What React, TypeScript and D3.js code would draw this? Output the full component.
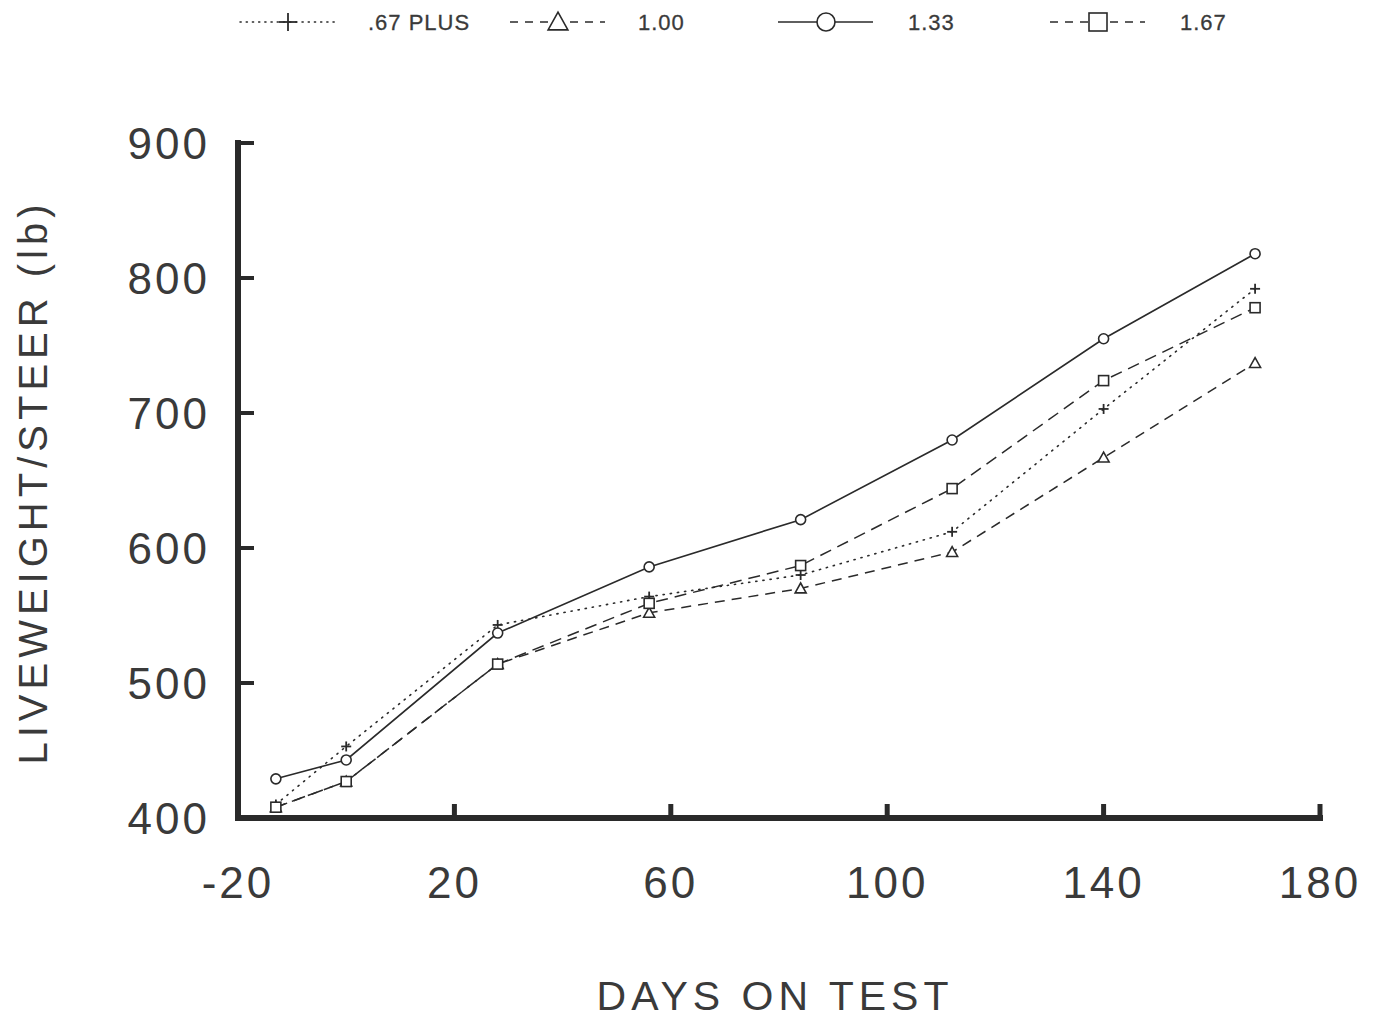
import React from "react";
import * as d3 from "d3";

const days = [-13, 0, 28, 56, 84, 112, 140, 168];
const plus67 = [410, 453, 543, 564, 580, 612, 703, 792];
const tri100 = [408, 427, 514, 552, 570, 597, 667, 737];
const circ133 = [429, 443, 537, 586, 621, 680, 755, 818];
const sq167 = [408, 427, 514, 559, 587, 644, 724, 778];

const xTicks = [-20, 20, 60, 100, 140, 180];
const yTicks = [400, 500, 600, 700, 800, 900];

const seriesNames = [".67 PLUS", "1.00", "1.33", "1.67"];

const INK = "#2a2a2a";
const TXT = "#3a3a3a";
const FONT = "'Liberation Sans', Arial, Helvetica, sans-serif";

type Kind = "plus" | "tri" | "circ" | "sq";

function Marker({ kind, x, y, s = 1 }: { kind: Kind; x: number; y: number; s?: number }) {
  const st = { fill: "white", stroke: INK, strokeWidth: 1.6 };
  if (kind === "plus") {
    const r = 5 * s;
    return (
      <g stroke={INK} strokeWidth={1.8}>
        <line x1={x - r} x2={x + r} y1={y} y2={y} />
        <line x1={x} x2={x} y1={y - r} y2={y + r} />
      </g>
    );
  }
  if (kind === "circ") return <circle cx={x} cy={y} r={5 * s} {...st} />;
  if (kind === "sq") {
    const h = 5 * s;
    return <rect x={x - h} y={y - h} width={2 * h} height={2 * h} {...st} />;
  }
  const h = 5.5 * s;
  return <path d={`M${x},${y - h}L${x + h},${y + h * 0.8}L${x - h},${y + h * 0.8}Z`} {...st} />;
}

export default function App() {
  const x = d3.scaleLinear().domain([-20, 180]).range([238, 1320]);
  const y = d3.scaleLinear().domain([400, 900]).range([818, 143]);

  const series: { kind: Kind; vals: number[]; dash: string; width: number }[] = [
    { kind: "plus", vals: plus67, dash: "1.2 6", width: 1.6 },
    { kind: "tri", vals: tri100, dash: "10 7", width: 1.5 },
    { kind: "circ", vals: circ133, dash: "none", width: 1.6 },
    { kind: "sq", vals: sq167, dash: "12 7", width: 1.5 },
  ];

  const line = d3
    .line<[number, number]>()
    .x((d) => x(d[0]))
    .y((d) => y(d[1]));

  const legendX = [240, 510, 778, 1050];
  const legendTextX = [368, 638, 908, 1180];

  return (
    <svg
      width={1373}
      height={1021}
      style={{ position: "absolute", left: 0, top: 0, background: "white" }}
      fontFamily={FONT}
    >
      {/* legend */}
      {series.map((s, i) => {
        const x0 = legendX[i];
        return (
          <g key={"leg" + i}>
            <line
              x1={x0}
              x2={x0 + 95}
              y1={22}
              y2={22}
              stroke={INK}
              strokeWidth={1.5}
              strokeDasharray={s.kind === "plus" ? "1.2 5" : s.kind === "circ" ? "none" : "8 7"}
              strokeLinecap={s.kind === "plus" ? "round" : "butt"}
            />
            <Marker kind={s.kind} x={x0 + 48} y={22} s={1.8} />
            <text x={legendTextX[i]} y={30} fontSize={22} fill={TXT} letterSpacing={1} stroke={TXT} strokeWidth={0.3}>
              {seriesNames[i]}
            </text>
          </g>
        );
      })}

      {/* axes */}
      <line x1={238} x2={238} y1={140} y2={821} stroke={INK} strokeWidth={6} />
      <line x1={235} x2={1323} y1={818} y2={818} stroke={INK} strokeWidth={6} />
      {yTicks.map((t) => (
        <line key={"yt" + t} x1={238} x2={254} y1={y(t)} y2={y(t)} stroke={INK} strokeWidth={4} />
      ))}
      {xTicks.slice(1).map((t) => (
        <line key={"xt" + t} x1={x(t)} x2={x(t)} y1={818} y2={804} stroke={INK} strokeWidth={5} />
      ))}

      {/* tick labels */}
      {yTicks.map((t) => (
        <text
          key={"yl" + t}
          x={210}
          y={y(t) + 16}
          textAnchor="end"
          fontSize={44}
          letterSpacing={3}
          fill={TXT}
        >
          {t}
        </text>
      ))}
      {xTicks.map((t) => (
        <text
          key={"xl" + t}
          x={x(t)}
          y={898}
          textAnchor="middle"
          fontSize={44}
          letterSpacing={3}
          fill={TXT}
        >
          {t}
        </text>
      ))}

      {/* axis titles */}
      <text x={775} y={1010} textAnchor="middle" fontSize={41} letterSpacing={5} fill={TXT}>
        DAYS ON TEST
      </text>
      <text
        transform={`translate(47,482) rotate(-90)`}
        textAnchor="middle"
        fontSize={40}
        letterSpacing={5}
        fill={TXT}
      >
        LIVEWEIGHT/STEER (lb)
      </text>

      {/* series */}
      {series.map((s, i) => {
        const pts = days.map((d, j) => [d, s.vals[j]] as [number, number]);
        return (
          <g key={"s" + i}>
            <path
              d={line(pts) || ""}
              fill="none"
              stroke={INK}
              strokeWidth={s.width}
              strokeDasharray={s.dash}
              strokeLinecap={s.kind === "plus" ? "round" : "butt"}
            />
            {pts.map((p, j) => (
              <Marker key={j} kind={s.kind} x={x(p[0])} y={y(p[1])} />
            ))}
          </g>
        );
      })}
    </svg>
  );
}
